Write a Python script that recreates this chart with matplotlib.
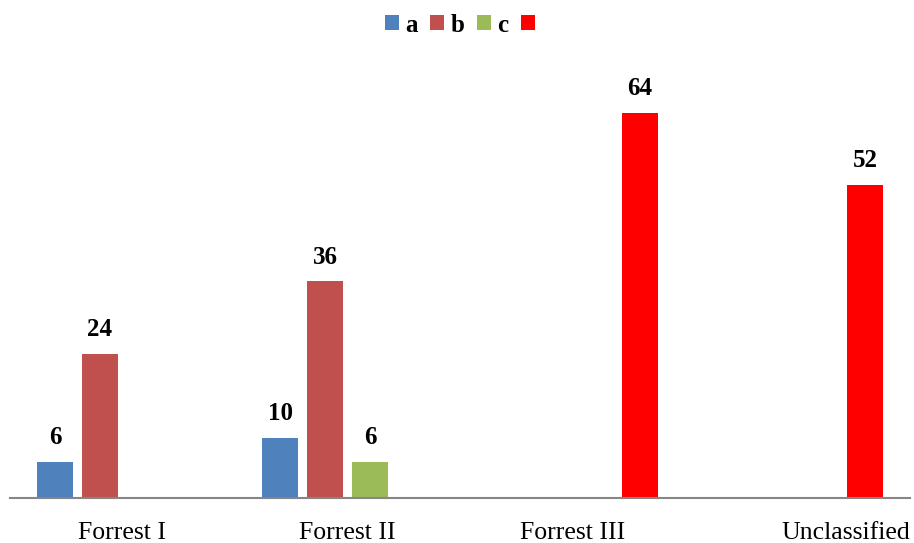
import numpy as np
import matplotlib.pyplot as plt
import matplotlib.transforms as mtransforms

# --- DATA ---
categories = ['Forrest I', 'Forrest II', 'Forrest III', 'Unclassified']
series_names = ['a', 'b', 'c', '']
series_a = [6, 10, None, None]
series_b = [24, 36, None, None]
series_c = [None, 6, None, None]
series_d = [None, None, 64, 52]
colors = ['#4F81BD', '#C0504D', '#9BBB59', '#FF0000']

all_series = [series_a, series_b, series_c, series_d]

plt.rcParams['font.family'] = ['Liberation Serif', 'DejaVu Serif']

fig = plt.figure(figsize=(9.14, 5.43), dpi=100)
ax = fig.add_axes([10 / 914, 1 - 498 / 543, 900 / 914, (498 - 76.6) / 543])

x = np.arange(len(categories))
slot = 0.2
bar_w = 0.16
handles = []
for i, (vals, name, col) in enumerate(zip(all_series, series_names, colors)):
    pos = x + (i - 1.5) * slot
    h = [v if v is not None else 0 for v in vals]
    bars = ax.bar(pos, h, width=bar_w, color=col, label=name)
    handles.append(bars)
    for p, v in zip(pos, vals):
        if v is None:
            continue
        ax.annotate(str(v), (p, v), xytext=(0, 9), textcoords='offset points',
                    ha='center', va='bottom', fontsize=18, fontweight='bold')

ax.set_xlim(-0.5, 3.5)
ax.set_ylim(0, 70)
ax.set_xticks(x)
ax.set_xticklabels(categories, fontsize=18.5)
ax.tick_params(axis='x', length=0, pad=17)
ax.set_yticks([])
for s in ['top', 'right', 'left']:
    ax.spines[s].set_visible(False)
ax.spines['bottom'].set_color('#868686')
ax.spines['bottom'].set_linewidth(1.5)

# last label is pushed left to stay inside the figure, like Excel does
last = ax.get_xticklabels()[-1]
last.set_transform(last.get_transform() + mtransforms.ScaledTranslation(0.48, 0, fig.dpi_scale_trans))

fig.legend(handles=handles, labels=series_names, loc='center', bbox_to_anchor=(463 / 914, 1 - 25 / 543),
           ncol=4, frameon=False, handlelength=0.56, handleheight=0.56, handletextpad=0.25,
           columnspacing=0.5, prop={'size': 18, 'weight': 'bold'})

fig.savefig('out.png', dpi=100)
